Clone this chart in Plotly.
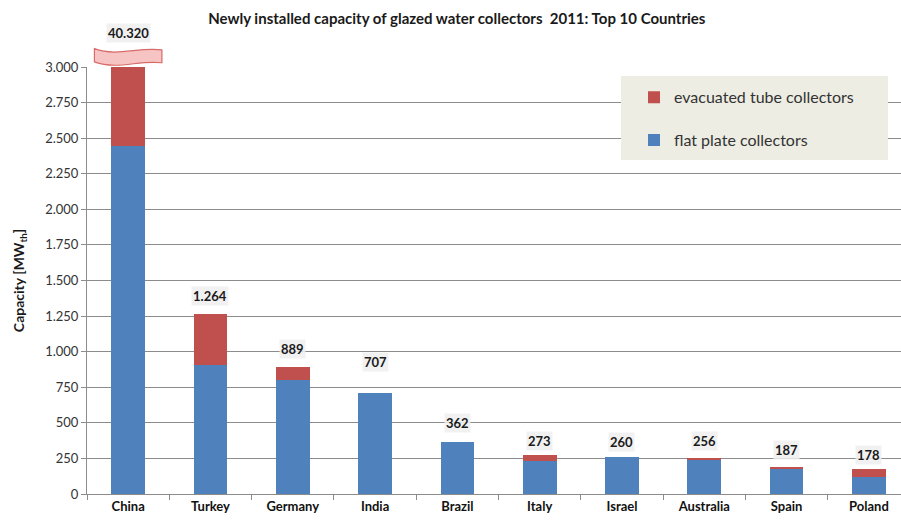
import plotly.graph_objects as go

countries = ["China", "Turkey", "Germany", "India", "Brazil", "Italy", "Israel", "Australia", "Spain", "Poland"]
flat_plate = [2445, 906, 801, 707, 362, 232, 260, 237, 173, 122]
evacuated = [37875, 358, 88, 0, 0, 41, 0, 19, 14, 56]
y_ticks = [0, 250, 500, 750, 1000, 1250, 1500, 1750, 2000, 2250, 2500, 2750, 3000]
label_lift = [34, 18, 18, 31, 19, 14, 15, 17, 17, 14]

Y_MAX = 3000
BLUE = "#4F81BD"
RED = "#C0504D"
GRID = "#8C8C8C"
FONT = "Lato"

fig = go.Figure()
fig.add_bar(x=countries, y=flat_plate, name="flat plate collectors", marker_color=BLUE,
            marker_line_width=0, width=0.41, legendgroup="flat", legendrank=2)
fig.add_bar(x=countries, y=evacuated, name="evacuated tube collectors", marker_color=RED,
            marker_line_width=0, width=0.41, legendgroup="evac", legendrank=1)

def fmt(v):
    return f"{v:,}".replace(",", ".")

annotations = []
for i, c in enumerate(countries):
    total = flat_plate[i] + evacuated[i]
    common = dict(x=c, xref="x", text=f"<b>{fmt(total)}</b>", showarrow=False,
                  yanchor="middle", yshift=label_lift[i], bgcolor="rgba(238,238,238,0.85)",
                  font=dict(size=13, color="#1a1a1a", family=FONT))
    if total > Y_MAX:
        annotations.append(dict(y=1.0, yref="paper", **common))
    else:
        annotations.append(dict(y=total, yref="y", **common))

# axis-break ribbon above the China bar (in x data units / paper y)
x0, x1 = -0.41, 0.41
w = x1 - x0
yt, yb = 1.043, 1.012
path = (f"M {x0},{yt} C {x0 + 0.35*w},{yt - 0.02} {x0 + 0.65*w},{yt + 0.005} {x1},{yt - 0.003} "
        f"L {x1},{yb - 0.002} C {x0 + 0.65*w},{yb + 0.005} {x0 + 0.35*w},{yb - 0.02} {x0},{yb} Z")

shapes = [
    dict(type="path", path=path, xref="x", yref="paper", fillcolor="#F7C4C4",
         line=dict(color="#D86A6A", width=1.2), layer="above"),
    dict(type="rect", xref="paper", yref="paper", x0=0.656, x1=0.984, y0=0.782, y1=0.979,
         fillcolor="#EDEDE3", line=dict(width=0), layer="above"),
]

fig.update_layout(
    width=901, height=523,
    margin=dict(l=87, r=0, t=67, b=29),
    paper_bgcolor="white", plot_bgcolor="white",
    separators=",.",
    barmode="stack",
    title=dict(text="<b>Newly installed capacity of glazed water collectors  2011: Top 10 Countries</b>",
               x=0.507, xanchor="center", y=0.965, yanchor="middle",
               font=dict(size=15, color="#1a1a1a", family=FONT)),
    font=dict(family=FONT, color="#333333"),
    legend=dict(x=0.672, xanchor="left", y=0.969, yanchor="top", bgcolor="rgba(0,0,0,0)",
                traceorder="grouped", tracegroupgap=19,
                font=dict(size=16, color="#333333", family=FONT)),
    annotations=annotations,
    shapes=shapes,
    bargap=0.59,
)

fig.update_xaxes(range=[-0.5, 9.39], showline=True, linecolor=GRID, linewidth=1,
                 ticks="outside", tickson="boundaries", ticklen=5, tickcolor=GRID,
                 tickfont=dict(size=13, color="#111111", family=FONT),
                 showgrid=False)
fig.update_xaxes(ticktext=[f"<b>{c}</b>" for c in countries], tickvals=countries)
fig.update_yaxes(range=[0, Y_MAX], tickvals=y_ticks, tickformat=",d", showline=True, linecolor=GRID,
                 linewidth=1, ticks="outside", ticklen=5, tickcolor=GRID, showgrid=True,
                 gridcolor=GRID, gridwidth=1, zeroline=False,
                 tickfont=dict(size=13, color="#333333", family=FONT),
                 title=dict(text="<b>Capacity [MW<sub>th</sub>]</b>", standoff=17,
                            font=dict(size=14, color="#1a1a1a", family=FONT)))

fig.write_html("out.html")
